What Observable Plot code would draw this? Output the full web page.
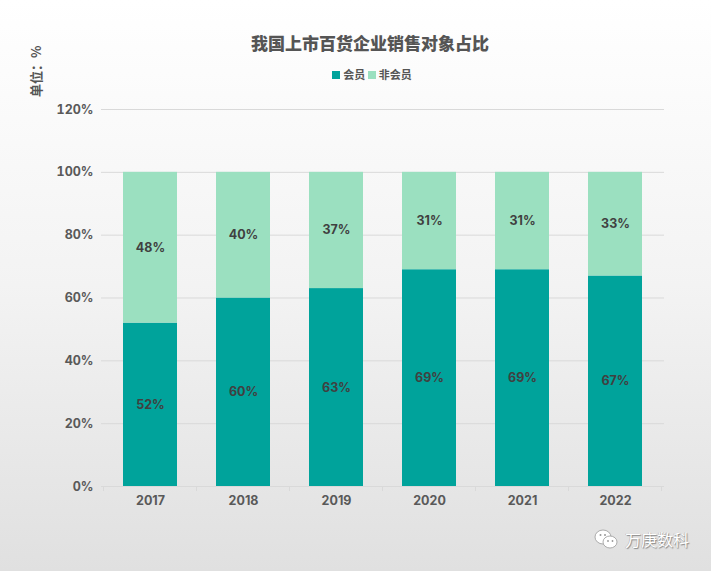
<!DOCTYPE html>
<html>
<head>
<meta charset="utf-8">
<script src="https://cdn.jsdelivr.net/npm/d3@7"></script>
<script src="https://cdn.jsdelivr.net/npm/@observablehq/plot@0.6"></script>
<style>
  html, body { margin: 0; padding: 0; }
  #wrap {
    position: relative; width: 711px; height: 571px; overflow: hidden;
    background: linear-gradient(to bottom, #ffffff 0%, #f3f3f3 50%, #e0e0e0 100%);
    font-family: "Noto Sans CJK SC", "Noto Sans", sans-serif;
  }
  #title {
    position: absolute; top: 30px; left: 0; width: 740px; text-align: center;
    font-size: 17px; font-weight: 900; color: #555;
  }
  #legend {
    position: absolute; top: 66px; left: 0; width: 744px; text-align: center;
    font-size: 11px; font-weight: bold; color: #555;
  }
  #legend span.sw { display: inline-block; width: 8px; height: 8px; margin-right: 3px; vertical-align: 0px; }
  #unit {
    position: absolute; left: 26px; top: 97px; transform: rotate(-90deg); transform-origin: left top;
    font-size: 13px; font-weight: bold; color: #555; white-space: nowrap;
  }
  #chart { position: absolute; left: 0; top: 0; }
  #wm {
    position: absolute; left: 594px; top: 527px; font-size: 16px; color: #fff;
    text-shadow: 1px 1px 1px #888, -0.5px -0.5px 0.5px #aaa; display: flex; align-items: center;
  }
</style>
</head>
<body>
<div id="wrap">
  <div id="chart"></div>
  <div id="title">我国上市百货企业销售对象占比</div>
  <div id="legend"><span class="sw" style="background:#00a39b"></span>会员 <span class="sw" style="background:#9be0c0"></span>非会员</div>
  <div id="unit">单位：%</div>
  <div id="wm">
    <svg width="26" height="22" viewBox="0 0 26 22" style="margin-right:5px">
      <ellipse cx="9" cy="9" rx="8" ry="7" fill="#fff" stroke="#999" stroke-width="0.8"/>
      <ellipse cx="16" cy="14" rx="7" ry="6" fill="#fff" stroke="#999" stroke-width="0.8"/>
      <circle cx="6.5" cy="7" r="1" fill="#999"/><circle cx="11" cy="7" r="1" fill="#999"/>
      <circle cx="14" cy="13" r="0.9" fill="#999"/><circle cx="18.5" cy="13" r="0.9" fill="#999"/>
    </svg>万庚数科</div>
</div>
<script>
const years = ["2017", "2018", "2019", "2020", "2021", "2022"];
const member = [52, 60, 63, 69, 69, 67];
const nonMember = [48, 40, 37, 31, 31, 33];
const seriesNames = ["会员", "非会员"];
const colors = ["#00a39b", "#9be0c0"];
const yTicks = [0, 20, 40, 60, 80, 100, 120];

const data = [];
years.forEach((y, i) => {
  data.push({year: y, series: seriesNames[0], value: member[i]});
  data.push({year: y, series: seriesNames[1], value: nonMember[i]});
});

const chart = Plot.plot({
  width: 711,
  height: 571,
  marginTop: 109,
  marginBottom: 85,
  marginLeft: 101,
  marginRight: 47,
  style: {background: "transparent", fontFamily: "Inter, 'Noto Sans', sans-serif"},
  x: {domain: years, paddingInner: 0.42, paddingOuter: 0.21, label: null},
  y: {domain: [0, 120], label: null},
  color: {domain: seriesNames, range: colors},
  marks: [
    Plot.gridY(yTicks, {stroke: "#d9d9d9", strokeOpacity: 1, strokeWidth: 1}),
    Plot.barY(data, Plot.stackY({x: "year", y: "value", fill: "series", z: "series", order: seriesNames})),
    Plot.text(data, Plot.stackY({x: "year", y: "value", z: "series", order: seriesNames, text: d => d.value + "%",
      fill: "#404040", fontWeight: "bold", fontSize: 12.5})),
    Plot.ruleY([0], {stroke: "#d9d9d9"}),
    Plot.axisY(yTicks, {tickFormat: d => d + "%", tickSize: 0, tickPadding: 8, fill: "#595959", fontWeight: "bold", fontSize: 12.5}),
    Plot.axisX({tickSize: 0, tickPadding: 10, fill: "#595959", fontWeight: "bold", fontSize: 12.5})
  ]
});
document.getElementById("chart").appendChild(chart);

// category-boundary tick marks on the x axis, placed from the band scale
const xs = chart.scale("x");
const ys = chart.scale("y");
const svg = d3.select(chart);
const y0 = ys.apply(0);
const step = xs.step;
const starts = years.map(y => xs.apply(y) - (step - xs.bandwidth) / 2);
const bounds = starts.concat([starts[starts.length - 1] + step]);
svg.append("g").selectAll("line").data(bounds).join("line")
  .attr("x1", d => d).attr("x2", d => d).attr("y1", y0).attr("y2", y0 + 5)
  .attr("stroke", "#d9d9d9");
</script>
</body>
</html>
